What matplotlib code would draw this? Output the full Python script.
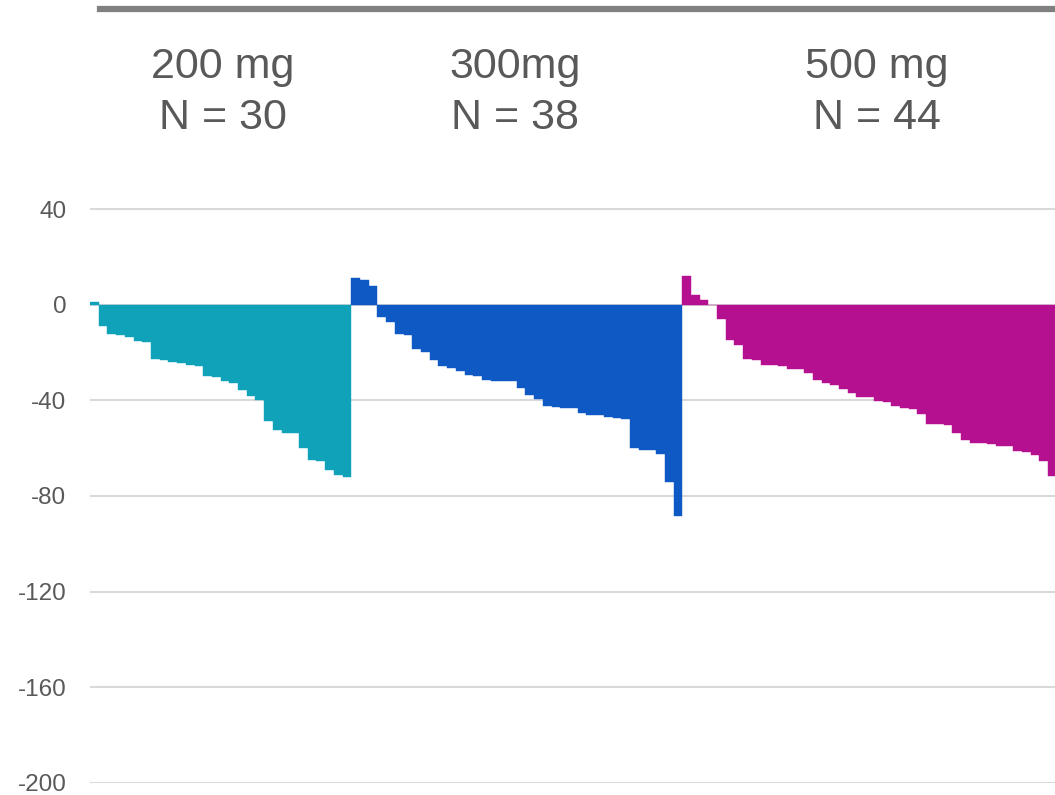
import matplotlib
matplotlib.use("Agg")
import matplotlib.pyplot as plt
from matplotlib.lines import Line2D
import numpy as np

plt.rcParams['font.family'] = ['Liberation Sans', 'DejaVu Sans']

# best % change per patient, sorted within each dose group
dose_200 = [1.1, -8.8, -12.1, -12.5, -13.4, -15.1, -15.5, -22.6, -23.0, -23.8,
            -24.3, -25.1, -25.5, -29.7, -30.1, -31.8, -32.6, -35.5, -38.0, -39.7,
            -48.5, -52.3, -53.5, -53.5, -59.8, -64.8, -65.2, -69.0, -71.1, -71.9]
dose_300 = [11.1, 10.3, 7.8, -5.0, -7.1, -12.1, -12.5, -18.4, -19.6, -23.0,
            -25.5, -26.3, -27.6, -29.3, -29.7, -31.4, -31.8, -31.8, -31.8, -34.7,
            -37.6, -39.3, -42.2, -42.6, -43.1, -43.1, -45.2, -46.0, -46.0, -46.8,
            -47.2, -47.7, -59.8, -60.6, -60.6, -62.3, -74.0, -88.2]
# last bar(s) of this group are cut off at the right edge of the original
dose_500 = [12.0, 4.0, 2.0, 0.0, -5.9, -14.6, -16.7, -22.6, -23.0, -25.1,
            -25.1, -25.5, -26.8, -26.8, -28.4, -31.4, -32.6, -33.4, -35.1, -36.8,
            -38.5, -38.5, -40.1, -40.6, -42.2, -43.1, -43.5, -45.6, -49.8, -49.8,
            -50.2, -53.5, -56.4, -57.7, -57.7, -58.1, -59.0, -59.0, -61.0, -61.5,
            -62.7, -65.6, -71.5]

group_doses = ["200 mg", "300mg", "500 mg"]
group_n = ["N = 30", "N = 38", "N = 44"]
group_colors = ["#10A2B8", "#0E59C4", "#B5108F"]
yticks = [40, 0, -40, -80, -120, -160, -200]

W, H = 1055, 795
fig = plt.figure(figsize=(W / 100, H / 100), dpi=100)
ax = fig.add_axes([90 / W, 12.3 / H, 1 - 90 / W, 1 - 12.3 / H])

start = 0
for vals, col in zip([dose_200, dose_300, dose_500], group_colors):
    x = np.arange(start, start + len(vals))
    ax.bar(x, vals, width=1.0, color=col, edgecolor=col, linewidth=0.3, zorder=3)
    start += len(vals)

ax.set_xlim(-0.5, 110.3)
ax.set_ylim(-200, 127.5)
ax.set_yticks(yticks)
ax.set_yticklabels([str(t) for t in yticks])
ax.tick_params(axis='y', length=0, pad=17, labelsize=17.5, labelcolor='#595959')
ax.tick_params(axis='x', length=0, labelbottom=False)
ax.grid(axis='y', color='#d9d9d9', linewidth=1.5, zorder=0)
for s in ax.spines.values():
    s.set_visible(False)

# dose headers, two lines each
header_x = [223 / W, 515 / W, 877 / W]
for hx, dose, n in zip(header_x, group_doses, group_n):
    fig.text(hx, 1 - 78 / H, dose, ha='center', va='baseline', fontsize=31,
             color='#595959')
    fig.text(hx, 1 - 129 / H, n, ha='center', va='baseline', fontsize=31,
             color='#595959')

# grey rule across the top
fig.add_artist(Line2D([100 / W, 1.0], [1 - 9 / H, 1 - 9 / H], color='#808080',
                      linewidth=4.5, transform=fig.transFigure))

fig.savefig("out.png", dpi=100)
